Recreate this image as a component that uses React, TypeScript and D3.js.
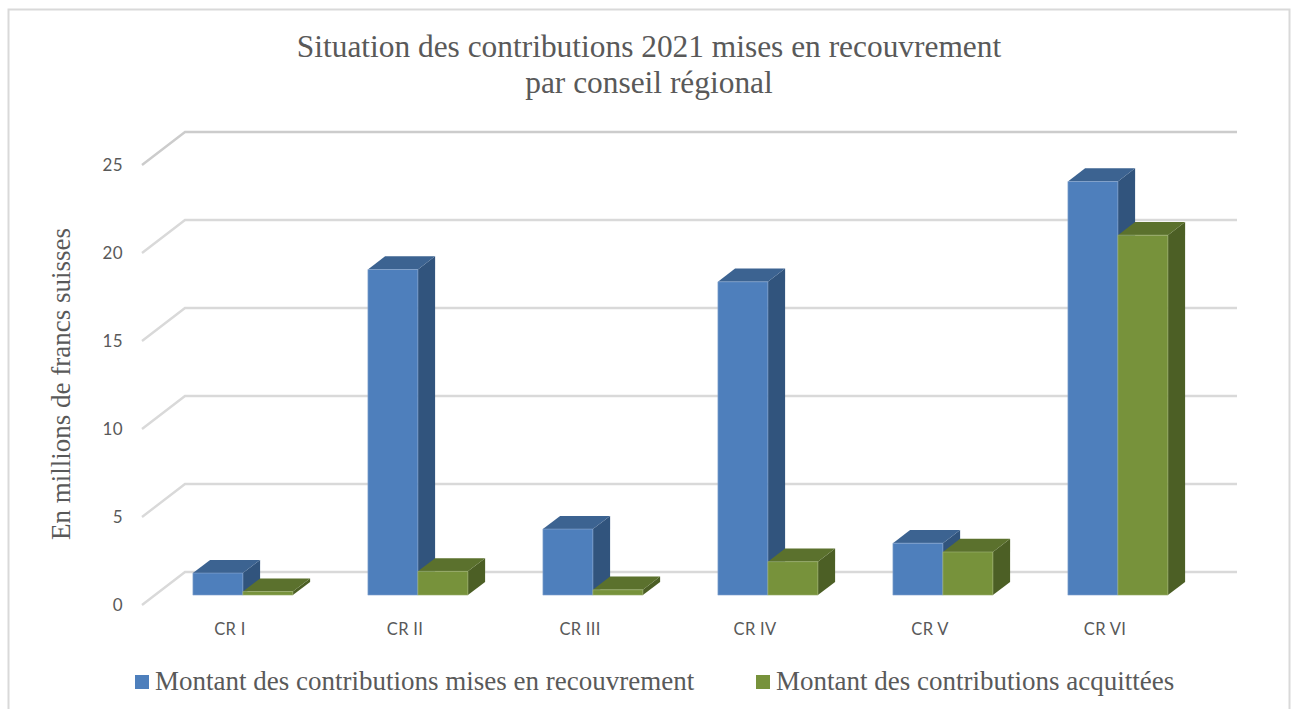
import React from 'react';
import * as d3 from 'd3';

const categories = ['CR I', 'CR II', 'CR III', 'CR IV', 'CR V', 'CR VI'];
const recouvrement = [1.25, 18.5, 3.75, 17.8, 2.95, 23.5];
const acquittees = [0.2, 1.35, 0.3, 1.9, 2.45, 20.45];
const yTicks = [0, 5, 10, 15, 20, 25];
const titleLines = ['Situation des contributions 2021 mises en recouvrement', 'par conseil régional'];
const yTitle = 'En millions de francs suisses';

const seriesList = [
  { name: 'Montant des contributions mises en recouvrement', values: recouvrement, front: '#4e7fbc', top: '#3c6391', side: '#31547d', edge: '#8aa8d0' },
  { name: 'Montant des contributions acquittées', values: acquittees, front: '#77923b', top: '#5b712d', side: '#4c5f25', edge: '#a3b678' },
];

const serif = '"Liberation Serif", serif';
const sans = 'Lato, sans-serif';
const textColor = '#595959';

// depth of the 3D floor, in pixels
const depthX = 43;
const depthY = -33;
const barNear = 0.3;
const barFar = 0.7;
const floorLeft = 142;
const floorRight = 1194;

const x = d3.scaleBand<string>().domain(categories).range([142.5, 1192.5]).paddingInner(75 / 175).paddingOuter(37.5 / 175);
const inner = d3.scaleBand<number>().domain([0, 1]).range([0, x.bandwidth()]);
const y = d3.scaleLinear().domain([0, 25]).range([605, 165]);

const pt = (px: number, v: number, depth: number): [number, number] => [px + depth * depthX, y(v) + depth * depthY];
const poly = (points: [number, number][]) => d3.line()(points) + 'Z';

const App = () => {
  return (
    <svg width={1291} height={709} style={{ position: 'absolute', left: 0, top: 0, display: 'block' }}>
      <rect x={8.5} y={9.5} width={1281} height={720} fill="#fff" stroke="#d9d9d9" strokeWidth={2} />

      {titleLines.map((t, i) => (
        <text key={t} x={649} y={57 + i * 36} textAnchor="middle" fontFamily={serif} fontSize={31.4} fill={textColor}>{t}</text>
      ))}

      {yTicks.map((t) => {
        const [x1, y1] = pt(floorLeft, t, 0);
        const [x2, y2] = pt(floorLeft, t, 1);
        const [x3, y3] = pt(floorRight, t, 1);
        return (
          <g key={t}>
            <path d={d3.line()([[x1, y1], [x2, y2], [x3, y3]]) as string} fill="none" stroke={t === 25 ? '#cccccc' : '#d9d9d9'} strokeWidth={2.4} />
            <text x={123} y={y(t) + 6} textAnchor="end" fontFamily={sans} fontSize={17} letterSpacing={0.4} fill={textColor}>{t}</text>
          </g>
        );
      })}

      {categories.map((c, ci) => (
        <g key={c}>
          {seriesList.map((s, si) => {
            const left = (x(c) as number) + (inner(si) as number);
            const right = left + inner.bandwidth();
            const v = s.values[ci];
            return (
              <g key={s.name}>
                <path d={poly([pt(right, 0, barNear), pt(right, 0, barFar), pt(right, v, barFar), pt(right, v, barNear)])} fill={s.side} />
                <path d={poly([pt(left, v, barNear), pt(right, v, barNear), pt(right, v, barFar), pt(left, v, barFar)])} fill={s.top} />
                <path d={poly([pt(left, 0, barNear), pt(right, 0, barNear), pt(right, v, barNear), pt(left, v, barNear)])} fill={s.front} stroke={s.edge} strokeWidth={0.6} />
              </g>
            );
          })}
          <text x={(x(c) as number) + x.bandwidth() / 2} y={635} textAnchor="middle" fontFamily={sans} fontSize={16.5} letterSpacing={0.3} fill={textColor}>{c}</text>
        </g>
      ))}

      <text transform="translate(70,384) rotate(-90)" textAnchor="middle" fontFamily={serif} fontSize={27} fill={textColor}>{yTitle}</text>

      <rect x={135} y={675} width={14} height={14} fill={seriesList[0].front} />
      <text x={155} y={690} fontFamily={serif} fontSize={27} fill={textColor}>{seriesList[0].name}</text>
      <rect x={756} y={675} width={14} height={14} fill={seriesList[1].front} />
      <text x={776} y={690} fontFamily={serif} fontSize={27} fill={textColor}>{seriesList[1].name}</text>
    </svg>
  );
};

export default App;
